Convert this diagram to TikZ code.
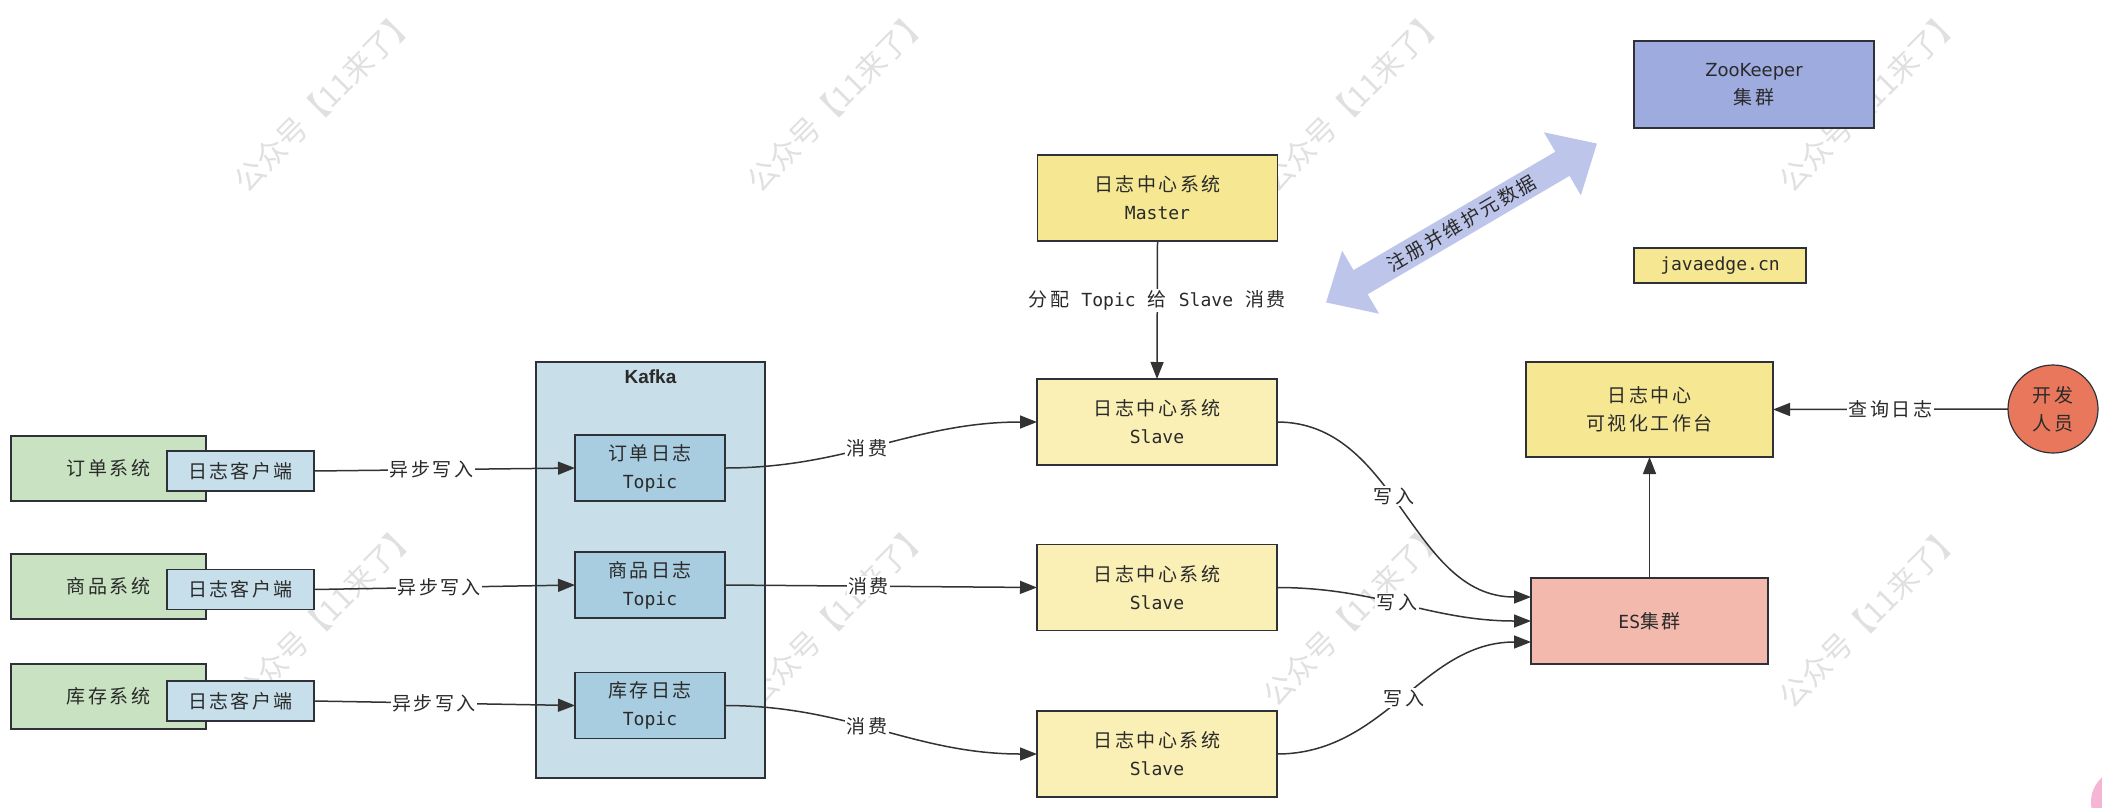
\documentclass[tikz,border=0pt]{standalone}
\usepackage{fontspec}
\setmainfont{DejaVu Sans}
\newfontfamily\cjk[LetterSpace=13]{Noto Sans CJK SC}
\newfontfamily\wmfont{Noto Sans CJK SC}
\newfontfamily\mono[Scale=0.95]{DejaVu Sans Mono}
\newfontfamily\lsans{Liberation Sans}
\usetikzlibrary{arrows.meta,calc,shapes.geometric}
\definecolor{sysgreen}{HTML}{C8E2C2}
\definecolor{cliblue}{HTML}{C6DFEA}
\definecolor{kafkablue}{HTML}{C8DFEA}
\definecolor{topicblue}{HTML}{A9CDE0}
\definecolor{masteryel}{HTML}{F6E893}
\definecolor{slaveyel}{HTML}{FAF0B6}
\definecolor{esred}{HTML}{F2B9AC}
\definecolor{zkblue}{HTML}{9EABDF}
\definecolor{devred}{HTML}{E8775B}
\definecolor{regblue}{HTML}{BDC6EA}
\definecolor{strokec}{HTML}{2E3238}
\definecolor{edgec}{HTML}{333333}
\definecolor{txtc}{HTML}{2A2A2A}
\definecolor{pinkc}{HTML}{F7B5D5}
\tikzset{
  blk/.style={draw=strokec, line width=1.6pt, inner sep=0pt, outer sep=0pt, align=center, text=txtc,
    font=\fontsize{19}{28}\selectfont\cjk},
  conn/.style={draw=edgec, line width=1.5pt, -{Triangle[length=17pt,width=13pt]}},
  lbl/.style={fill=white, inner sep=1.5pt, text=txtc, font=\fontsize{19}{22}\selectfont\cjk},
  wmark/.style={rotate=45, text=black, text opacity=0.12, font=\fontsize{30}{30}\selectfont\wmfont}
}
\begin{document}
\begin{tikzpicture}[x=1pt,y=-1pt]
\useasboundingbox (0,0) rectangle (2102,807);
\fill[white] (0,0) rectangle (2102,807);
\begin{scope}
\clip (0,0) rectangle (2102,807);
\fill[pinkc] (2124,802) circle (33);
\end{scope}
% watermarks
\foreach \x/\y [count=\i] in {325/100, 838/100, 1354/100, 1870/100, 326/614, 838/614, 1354/614, 1870/616}
  \node[wmark] (wm\i) at (\x,\y) {公众号【11来了】};

% source systems
\node[blk, fill=sysgreen, minimum width=195pt, minimum height=65pt] (s1) at (108.5,468.5) {订单系统};
\node[blk, fill=sysgreen, minimum width=195pt, minimum height=65pt] (s2) at (108.5,586.5) {商品系统};
\node[blk, fill=sysgreen, minimum width=195pt, minimum height=65pt] (s3) at (108.5,696.5) {库存系统};
\node[blk, fill=cliblue, minimum width=147pt, minimum height=40pt] (c1) at (240.5,471) {日志客户端};
\node[blk, fill=cliblue, minimum width=147pt, minimum height=40pt] (c2) at (240.5,589.5) {日志客户端};
\node[blk, fill=cliblue, minimum width=147pt, minimum height=40pt] (c3) at (240.5,701) {日志客户端};

% kafka
\node[blk, fill=kafkablue, minimum width=229pt, minimum height=416pt] (kafka) at (650.5,570) {};
\node[text=txtc, font=\fontsize{19}{22}\selectfont\lsans\bfseries] (kt) at (650.5,377) {Kafka};
\node[blk, fill=topicblue, minimum width=150pt, minimum height=66pt] (t1) at (650,468) {订单日志\\{\mono Topic}};
\node[blk, fill=topicblue, minimum width=150pt, minimum height=66pt] (t2) at (650,585) {商品日志\\{\mono Topic}};
\node[blk, fill=topicblue, minimum width=150pt, minimum height=66pt] (t3) at (650,705.5) {库存日志\\{\mono Topic}};

% log center
\node[blk, fill=masteryel, minimum width=240pt, minimum height=86pt] (master) at (1157.5,198) {日志中心系统\\{\mono Master}};
\node[blk, fill=slaveyel, minimum width=240pt, minimum height=86pt] (sl1) at (1157,422) {日志中心系统\\{\mono Slave}};
\node[blk, fill=slaveyel, minimum width=240pt, minimum height=86pt] (sl2) at (1157,587.5) {日志中心系统\\{\mono Slave}};
\node[blk, fill=slaveyel, minimum width=240pt, minimum height=86pt] (sl3) at (1157,754) {日志中心系统\\{\mono Slave}};

% right side
\node[blk, fill=zkblue, minimum width=240pt, minimum height=87pt] (zk) at (1754,84.5) {{\normalfont\fontsize{18}{27}\selectfont ZooKeeper}\\集群};
\node[blk, fill=masteryel, minimum width=172pt, minimum height=35pt] (je) at (1720,265.5) {{\mono javaedge.cn}};
\node[blk, fill=masteryel, minimum width=247pt, minimum height=95pt] (viz) at (1649.5,409.5) {日志中心\\可视化工作台};
\node[blk, fill=esred, minimum width=237pt, minimum height=86pt] (es) at (1649.5,621) {{\mono ES}集群};
\node[blk, ellipse, line width=1.2pt, fill=devred, minimum width=90pt, minimum height=88pt] (dev) at (2053,409) {开发\\人员};

% register double arrow
\begin{scope}[shift={(1461.5,223)}, rotate=30.4]
\fill[regblue] (-157,0) -- (-117,-36.5) -- (-117,-14) -- (117,-14) -- (117,-36.5) -- (157,0)
  -- (117,36.5) -- (117,14) -- (-117,14) -- (-117,36.5) -- cycle;
\end{scope}
\node[rotate=30.4, text=txtc, font=\fontsize{19}{22}\selectfont\cjk] (reg) at (1461.5,223) {注册并维护元数据};

% connectors
\coordinate (e1) at ($(es.west)+(0,-24)$);
\coordinate (e3) at ($(es.west)+(0,21)$);
\draw[conn] (c1.east) -- node[lbl, pos=0.45] {异步写入} (t1.west);
\draw[conn] (c2.east) -- node[lbl, pos=0.48] {异步写入} (t2.west);
\draw[conn] (c3.east) -- node[lbl, pos=0.46] {异步写入} (t3.west);
\draw[conn] (t1.east) to[out=0,in=180] node[lbl, pos=0.45] {消费} (sl1.west);
\draw[conn] (t2.east) -- node[lbl, pos=0.46] {消费} (sl2.west);
\draw[conn] (t3.east) to[out=0,in=180] node[lbl, pos=0.45] {消费} (sl3.west);
\draw[conn] (master.south) -- node[lbl, pos=0.43] {分配\hspace{12pt}{\mono Topic}\hspace{12pt}给\hspace{12pt}{\mono Slave}\hspace{12pt}消费} (sl1.north);
\draw[conn] (sl1.east) to[out=0,in=180] node[lbl, pos=0.45] {写入} (e1);
\draw[conn] (sl2.east) to[out=0,in=180] node[lbl, pos=0.47] {写入} (es.west);
\draw[conn] (sl3.east) to[out=0,in=180] node[lbl, pos=0.5] {写入} (e3);
\draw[conn] (es.north) -- (viz.south);
\draw[conn] (dev.west) -- node[lbl] {查询日志} (viz.east);
\end{tikzpicture}
\end{document}
